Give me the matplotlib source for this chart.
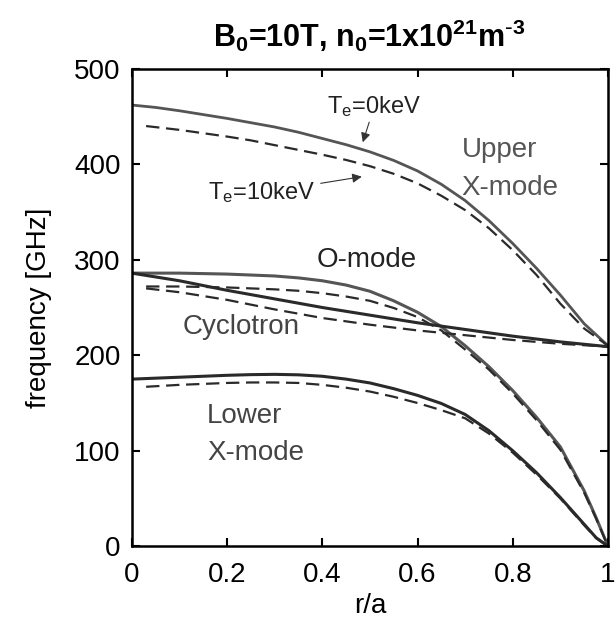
import numpy as np
import matplotlib
matplotlib.use('Agg')
import matplotlib.pyplot as plt

plt.rcParams['font.family'] = ['Liberation Sans', 'DejaVu Sans']
plt.rcParams['mathtext.default'] = 'regular'

# r/a grid and frequencies [GHz]
r_grid = [0, 0.05, 0.1, 0.15, 0.2, 0.25, 0.3, 0.35, 0.4, 0.45, 0.5,
          0.55, 0.6, 0.65, 0.7, 0.75, 0.8, 0.85, 0.9, 0.95, 1.0]
r_grid_hot = [0.03] + r_grid[2:]

upper_cold = [462, 459.5, 456, 452, 448, 443.5, 439, 433.5, 427, 420.5, 413,
              404, 393, 379, 362, 341, 317, 291, 263, 233, 210]
upper_hot = [440, 436, 432.5, 429, 425, 420, 415, 410, 404.5, 398,
             390, 380, 367, 352, 333, 310, 284, 254, 228, 210]

r_omode = r_grid[:-1] + [0.975, 1.0]
omode_cold = [286, 286, 286, 285.5, 285, 284, 283, 281, 278, 273.5, 267,
              257, 245, 230, 210, 188, 163, 135, 104, 58, 30, 0]
r_omode_hot = r_grid_hot[:-1] + [0.975, 1.0]
omode_hot = [272, 272, 271.5, 271, 270, 269, 267.5, 265, 261.5, 257,
             249.5, 240, 226, 206, 185, 160, 132, 101, 56, 29, 0]

cyc_cold = [286, 282, 278, 273, 268, 263.5, 259, 254.5, 250, 246, 242,
            238, 234, 230.5, 227, 223.5, 220, 217, 214, 211.5, 209]
cyc_hot = [270, 266, 262, 258, 253, 248, 243.5, 239, 235.5, 232,
           229, 226, 223.5, 221, 218.5, 216, 214, 212, 210.5, 209]

r_lower = r_grid[:-1] + [0.975, 1.0]
lower_cold = [175, 176, 177, 178, 179, 179.7, 180, 179.5, 178, 175, 171,
              165, 158, 149.5, 138, 121, 100, 77, 51, 23, 9, 0]
r_lower_hot = r_grid_hot[:-1] + [0.975, 1.0]
lower_hot = [167, 169, 170, 171, 171.5, 171.5, 171, 169, 166, 162,
             156.5, 150, 142.5, 134, 118, 98, 75, 50, 22, 8.5, 0]

fig = plt.figure(figsize=(6.16, 6.25), dpi=100)
ax = fig.add_axes([0.214, 0.126, 0.773, 0.764])

gray = '#555555'
dark = '#2a2a2a'
dash = dict(ls='--', dashes=(6, 3), lw=1.6)

ax.plot(r_grid, upper_cold, color=gray, lw=2.0)
ax.plot(r_grid_hot, upper_hot, color=dark, **dash)
ax.plot(r_omode, omode_cold, color=gray, lw=2.2)
ax.plot(r_omode_hot, omode_hot, color=dark, **dash)
ax.plot(r_grid, cyc_cold, color=dark, lw=2.2)
ax.plot(r_grid_hot, cyc_hot, color=dark, **dash)
ax.plot(r_lower, lower_cold, color=dark, lw=2.2)
ax.plot(r_lower_hot, lower_hot, color=dark, **dash)

ax.set_xlim(0, 1)
ax.set_ylim(0, 500)
ax.set_xticks([0, 0.2, 0.4, 0.6, 0.8, 1])
ax.set_xticklabels(['0', '0.2', '0.4', '0.6', '0.8', '1'])
ax.set_yticks([0, 100, 200, 300, 400, 500])
ax.tick_params(direction='in', length=6, width=1.5, labelsize=20,
               top=True, right=True)
ax.tick_params(axis='x', pad=11)
ax.tick_params(axis='y', pad=8)
for s in ax.spines.values():
    s.set_linewidth(1.8)

ax.set_xlabel('r/a', fontsize=20, labelpad=4)
ax.set_ylabel('frequency [GHz]', fontsize=20, labelpad=16)
ax.set_title(r'$B_0$=10T, $n_0$=1x10$^{21}$m$^{\text{-}3}$', fontsize=22,
             fontweight='bold', pad=16)

# labels
ax.text(0.693, 415, 'Upper', fontsize=20, color=gray, va='center')
ax.text(0.693, 375, 'X-mode', fontsize=20, color=gray, va='center')
ax.text(0.389, 300, 'O-mode', fontsize=20, color='#222222', va='center')
ax.text(0.107, 230, 'Cyclotron', fontsize=20, color='#444444', va='center')
ax.text(0.158, 136, 'Lower', fontsize=20, color='#444444', va='center')
ax.text(0.158, 98, 'X-mode', fontsize=20, color='#444444', va='center')

ax.annotate(r'$T_e$=0keV', xy=(0.485, 423), xytext=(0.41, 460),
            fontsize=17, color='#222222', va='center',
            arrowprops=dict(arrowstyle='-|>', color='#333333', lw=0.8,
                            shrinkA=0, shrinkB=0, mutation_scale=14),
            )
ax.annotate(r'$T_e$=10keV', xy=(0.483, 387), xytext=(0.16, 370),
            fontsize=17, color='#222222', va='center',
            arrowprops=dict(arrowstyle='-|>', color='#333333', lw=0.8,
                            shrinkA=2, shrinkB=0, mutation_scale=14),
            )

fig.savefig('out.png', dpi=100)
